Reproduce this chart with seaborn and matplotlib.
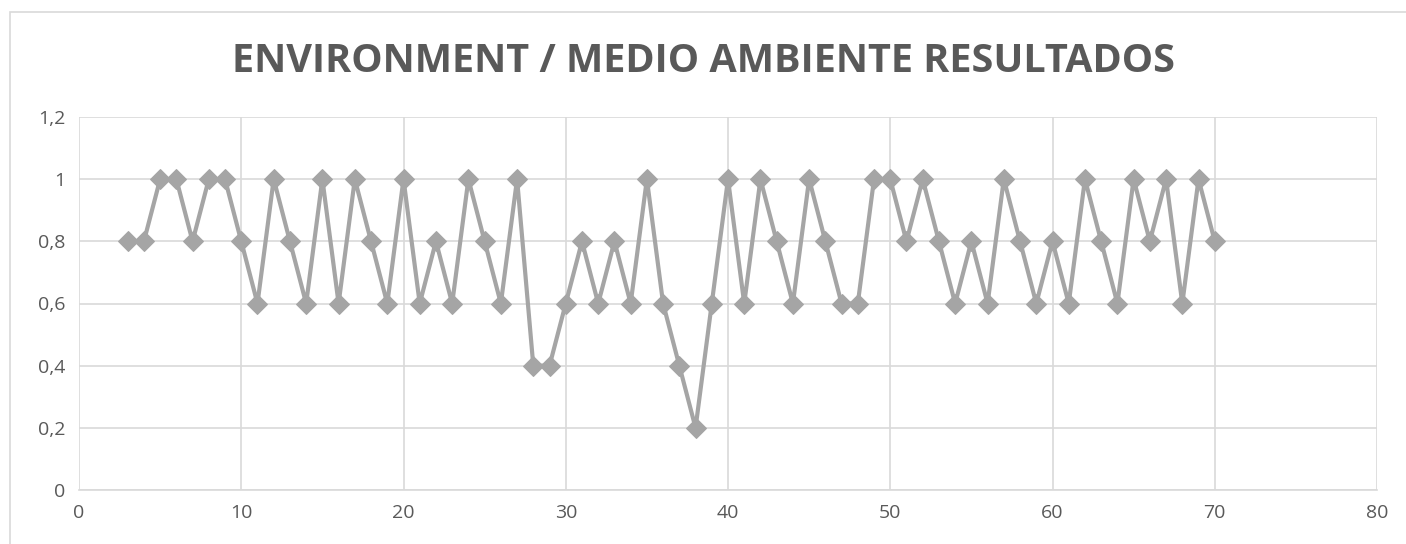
import matplotlib.pyplot as plt
import matplotlib.patches as patches
import pandas as pd
import seaborn as sns

# Data
x_vals = list(range(3, 71))
y_vals = [0.8, 0.8, 1, 1, 0.8, 1, 1, 0.8, 0.6, 1,
          0.8, 0.6, 1, 0.6, 1, 0.8, 0.6, 1, 0.6, 0.8,
          0.6, 1, 0.8, 0.6, 1, 0.4, 0.4, 0.6, 0.8, 0.6,
          0.8, 0.6, 1, 0.6, 0.4, 0.2, 0.6, 1, 0.6, 1,
          0.8, 0.6, 1, 0.8, 0.6, 0.6, 1, 1, 0.8, 1,
          0.8, 0.6, 0.8, 0.6, 1, 0.8, 0.6, 0.8, 0.6, 1,
          0.8, 0.6, 1, 0.8, 1, 0.6, 1, 0.8]
x_ticks = [0, 10, 20, 30, 40, 50, 60, 70, 80]
y_ticks = [0, 0.2, 0.4, 0.6, 0.8, 1, 1.2]
y_tick_labels = ['0', '0,2', '0,4', '0,6', '0,8', '1', '1,2']
title = 'ENVIRONMENT / MEDIO AMBIENTE RESULTADOS'

df = pd.DataFrame({'x': x_vals, 'y': y_vals})

sns.set_style('white')
plt.rcParams['font.family'] = ['Open Sans', 'DejaVu Sans']

text_col = '#595959'
grid_col = '#D9D9D9'

fig = plt.figure(figsize=(14.06, 5.44), dpi=100)
ax = fig.add_axes([79 / 1406, 1 - 490 / 544, (1377 - 79) / 1406, (490 - 117) / 544])

# outer chart frame
fig.patches.append(patches.Rectangle((10 / 1406, -0.05), 1.1, 1 - 12 / 544 + 0.05,
                                     transform=fig.transFigure, fill=False,
                                     edgecolor=grid_col, linewidth=1.2))

sns.lineplot(data=df, x='x', y='y', ax=ax, color='#A5A5A5', linewidth=3,
             marker='D', markersize=10.5, markeredgecolor='#A5A5A5', zorder=3)

ax.set_xlim(0, 80)
ax.set_ylim(0, 1.2)
ax.set_xticks(x_ticks)
ax.set_yticks(y_ticks)
ax.set_yticklabels(y_tick_labels)
ax.grid(True, color=grid_col, linewidth=1.2)
for s in ['top', 'right', 'left']:
    ax.spines[s].set_visible(False)
ax.spines['bottom'].set_color(grid_col)
ax.spines['bottom'].set_linewidth(1.2)
ax.tick_params(length=0, colors=text_col, labelsize=14, pad=10)
ax.set_xlabel('')
ax.set_ylabel('')

fig.text(0.5, 1 - 61 / 544, title, ha='center', va='center', fontsize=28.5,
         fontweight='bold', color=text_col)

fig.savefig('out.png', dpi=100)
